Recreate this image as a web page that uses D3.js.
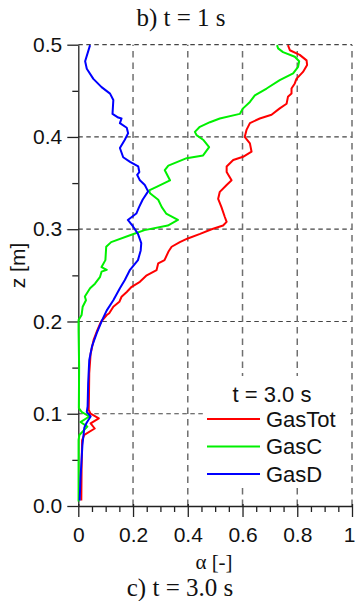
<!DOCTYPE html>
<html>
<head>
<meta charset="utf-8">
<script src="https://cdn.jsdelivr.net/npm/d3@7"></script>
<style>
  html, body { margin: 0; padding: 0; background: #fff; }
  svg { display: block; }
</style>
</head>
<body>
<svg id="chart" width="355" height="601"></svg>
<script>
// Gas volume fraction profiles along the column height at t = 3.0 s
const zGasTot = [0.4995,0.494,0.489,0.483,0.478,0.4705,0.463,0.458,0.4525,0.447,0.4435,0.436,0.431,0.424,0.420,0.415,0.408,0.400,0.393,0.384,0.3785,0.375,0.368,0.362,0.353,0.348,0.3405,0.333,0.324,0.3135,0.308,0.304,0.300,0.295,0.290,0.286,0.281,0.2755,0.2665,0.263,0.2557,0.250,0.243,0.2376,0.232,0.2268,0.2213,0.216,0.209,0.207,0.1997,0.191,0.180,0.165,0.144,0.120,0.104,0.100,0.095,0.0896,0.084,0.077,0.0715,0.040,0.006];
const aGasTot = [0.766,0.773,0.809,0.834,0.836,0.821,0.797,0.791,0.779,0.779,0.766,0.761,0.736,0.706,0.663,0.627,0.615,0.608,0.627,0.633,0.602,0.566,0.542,0.542,0.560,0.542,0.517,0.511,0.523,0.535,0.542,0.529,0.487,0.445,0.400,0.371,0.341,0.329,0.315,0.292,0.286,0.250,0.225,0.195,0.177,0.158,0.150,0.128,0.113,0.104,0.083,0.070,0.056,0.045,0.040,0.039,0.038,0.045,0.075,0.045,0.060,0.022,0.014,0.012,0.011];

const zGasC = [0.4995,0.496,0.492,0.487,0.482,0.476,0.469,0.4615,0.4525,0.445,0.438,0.431,0.425,0.420,0.416,0.411,0.4055,0.402,0.397,0.389,0.380,0.377,0.369,0.364,0.353,0.346,0.342,0.339,0.332,0.324,0.317,0.310,0.304,0.299,0.294,0.286,0.281,0.2665,0.259,0.256,0.254,0.248,0.241,0.236,0.227,0.223,0.216,0.207,0.2015,0.190,0.151,0.106,0.102,0.097,0.091,0.086,0.077,0.0715,0.005];
const aGasC = [0.726,0.730,0.748,0.791,0.807,0.803,0.785,0.736,0.688,0.645,0.627,0.602,0.590,0.517,0.481,0.444,0.426,0.432,0.456,0.478,0.456,0.396,0.329,0.316,0.335,0.286,0.259,0.262,0.292,0.305,0.321,0.364,0.327,0.242,0.194,0.120,0.102,0.099,0.085,0.104,0.085,0.079,0.061,0.043,0.024,0.028,0.016,0.012,0.001,0.001,0.003,0.002,0.012,0.040,0.008,0.033,0.004,0.001,0.001];

const zGasD = [0.4995,0.482,0.474,0.463,0.454,0.447,0.440,0.425,0.421,0.420,0.415,0.410,0.404,0.397,0.388,0.378,0.373,0.368,0.362,0.359,0.353,0.348,0.341,0.332,0.324,0.317,0.310,0.303,0.295,0.285,0.277,0.2665,0.256,0.245,0.236,0.223,0.212,0.2015,0.187,0.173,0.158,0.133,0.108,0.102,0.097,0.090,0.085,0.066,0.030,0.006];
const aGasD = [0.043,0.025,0.031,0.055,0.085,0.116,0.128,0.125,0.146,0.158,0.152,0.177,0.182,0.170,0.152,0.164,0.189,0.219,0.223,0.215,0.225,0.243,0.255,0.235,0.222,0.212,0.181,0.200,0.218,0.230,0.228,0.218,0.189,0.170,0.152,0.128,0.104,0.087,0.067,0.050,0.040,0.036,0.034,0.031,0.045,0.030,0.022,0.015,0.008,0.005];

const seriesNames = ["GasTot", "GasC", "GasD"];
const seriesColors = ["#ff0000", "#00f000", "#0000ff"];
const xTicks = [0, 0.2, 0.4, 0.6, 0.8, 1];
const xTickLabels = ["0", "0.2", "0.4", "0.6", "0.8", "1"];
const yTicks = [0, 0.1, 0.2, 0.3, 0.4, 0.5];
const yTickLabels = ["0.0", "0.1", "0.2", "0.3", "0.4", "0.5"];
const legendTitle = "t = 3.0 s";
const topCaption = "b) t = 1 s";
const bottomCaption = "c) t = 3.0 s";
const xTitle = "α [-]";
const yTitle = "z [m]";

const series = [
  { name: seriesNames[0], color: seriesColors[0], z: zGasTot, a: aGasTot },
  { name: seriesNames[1], color: seriesColors[1], z: zGasC, a: aGasC },
  { name: seriesNames[2], color: seriesColors[2], z: zGasD, a: aGasD }
];

const svg = d3.select("#chart");
const sans = "'Liberation Sans', Arial, sans-serif";
const serif = "'Liberation Serif', 'Times New Roman', serif";

const x = d3.scaleLinear().domain([0, 1]).range([78.3, 352]);
const y = d3.scaleLinear().domain([0, 0.5]).range([506, 44.7]);

// dashed grid
const grid = svg.append("g");
grid.selectAll("line.h").data(yTicks.filter(v => v > 0)).join("line")
  .attr("x1", x(0)).attr("x2", x(1))
  .attr("y1", d => y(d)).attr("y2", d => y(d))
  .attr("stroke", "#444").attr("stroke-width", 1.2)
  .attr("stroke-dasharray", "4.5,3.5");
grid.selectAll("line.v").data(xTicks.filter(v => v > 0)).join("line")
  .attr("x1", d => x(d)).attr("x2", d => x(d))
  .attr("y1", y(0)).attr("y2", y(0.5))
  .attr("stroke", "#6f6f6f").attr("stroke-width", 1.5)
  .attr("stroke-dasharray", "6.5,5");

// minor ticks
const xMinor = d3.range(0, 1.0001, 0.05).filter(v => Math.abs(v * 5 - Math.round(v * 5)) > 1e-6);
const yMinor = d3.range(0.05, 0.5, 0.1);

const xAxisMinor = svg.append("g").attr("transform", `translate(0,${y(0)})`)
  .call(d3.axisBottom(x).tickValues(xMinor).tickSize(6).tickFormat(""));
const yAxisMinor = svg.append("g").attr("transform", `translate(${x(0)},0)`)
  .call(d3.axisLeft(y).tickValues(yMinor).tickSize(6).tickFormat(""));
[xAxisMinor, yAxisMinor].forEach(g => g.select(".domain").remove());

// major axes
const xAxis = svg.append("g").attr("transform", `translate(0,${y(0)})`)
  .call(d3.axisBottom(x).tickValues(xTicks).tickSize(11).tickSizeOuter(0).tickPadding(10)
    .tickFormat((d, i) => xTickLabels[i]));
const yAxis = svg.append("g").attr("transform", `translate(${x(0)},0)`)
  .call(d3.axisLeft(y).tickValues(yTicks).tickSize(11).tickSizeOuter(0).tickPadding(5)
    .tickFormat((d, i) => yTickLabels[i]));

svg.selectAll(".tick line").attr("stroke", "#222").attr("stroke-width", 1.3);
svg.selectAll(".domain").attr("stroke", "#222").attr("stroke-width", 1.3);
svg.selectAll(".tick text").attr("font-family", sans).attr("font-size", 21).attr("fill", "#111");
xAxis.selectAll(".tick line").attr("y1", -2);
// keep the last label inside the drawing area
xAxis.selectAll(".tick text").filter(d => d === 1).attr("text-anchor", "end").attr("x", 3);

// legend background
svg.append("rect").attr("x", 203).attr("y", 376).attr("width", 144).attr("height", 111).attr("fill", "#fff");

// profiles
const line = d3.line().x(d => x(d[1])).y(d => y(d[0]));
svg.append("g").selectAll("path").data(series).join("path")
  .attr("d", s => line(d3.zip(s.z, s.a)))
  .attr("fill", "none")
  .attr("stroke", s => s.color)
  .attr("stroke-width", 2)
  .attr("stroke-linejoin", "round");

// legend
const legend = svg.append("g");
legend.append("text").attr("x", 272).attr("y", 402).attr("text-anchor", "middle")
  .attr("font-family", sans).attr("font-size", 22).attr("fill", "#111").text(legendTitle);
const items = legend.selectAll("g.item").data(series).join("g")
  .attr("transform", (d, i) => `translate(0,${419 + i * 27.5})`);
items.append("line").attr("x1", 207).attr("x2", 260).attr("y1", 0).attr("y2", 0)
  .attr("stroke", d => d.color).attr("stroke-width", 2);
items.append("text").attr("x", 266).attr("y", 7.5)
  .attr("font-family", sans).attr("font-size", 22).attr("fill", "#111").text(d => d.name);

// titles
svg.append("text").attr("x", 181).attr("y", 26).attr("text-anchor", "middle")
  .attr("font-family", serif).attr("font-size", 25).attr("fill", "#111").text(topCaption);
svg.append("text").attr("x", 180).attr("y", 596).attr("text-anchor", "middle")
  .attr("font-family", serif).attr("font-size", 25).attr("fill", "#111").text(bottomCaption);
svg.append("text").attr("x", 214).attr("y", 569).attr("text-anchor", "middle")
  .attr("font-family", serif).attr("font-size", 21).attr("fill", "#111").text(xTitle);
svg.append("text").attr("transform", "translate(25,265.5) rotate(-90)").attr("text-anchor", "middle")
  .attr("font-family", sans).attr("font-size", 21).attr("fill", "#111").text(yTitle);
</script>
</body>
</html>
